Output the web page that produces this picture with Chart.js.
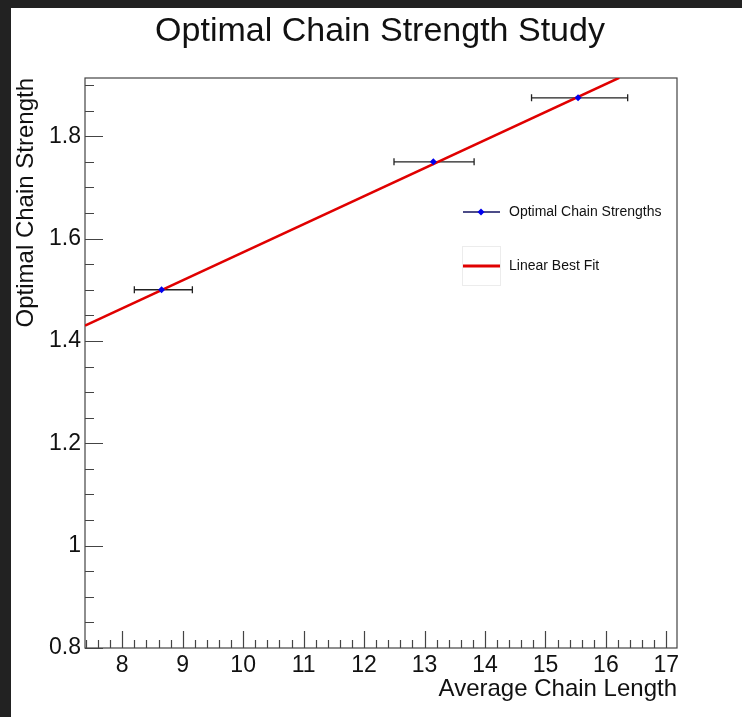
<!DOCTYPE html>
<html><head><meta charset="utf-8">
<script src="https://cdn.jsdelivr.net/npm/chart.js@4.4.1/dist/chart.umd.min.js"></script>
<style>html,body{margin:0;padding:0;background:#fff;} canvas{display:block;}</style>
</head><body>
<canvas id="c" width="742" height="717"></canvas>
<script>
// ---- data ----
const chartTitle = 'Optimal Chain Strength Study';
const xAxisTitle = 'Average Chain Length';
const yAxisTitle = 'Optimal Chain Strength';
const seriesLabels = ['Optimal Chain Strengths', 'Linear Best Fit'];
const chainLength = [8.65, 13.145, 15.54];
const chainLengthLow = [8.20, 12.495, 14.77];
const chainLengthHigh = [9.16, 13.82, 16.36];
const chainStrength = [1.50, 1.75, 1.875];
const fitX = [7.384, 16.22];
const fitY = [1.430, 1.914];
const xTickValues = [8, 9, 10, 11, 12, 13, 14, 15, 16, 17];
const yTickValues = [0.8, 1, 1.2, 1.4, 1.6, 1.8];
const xRange = [7.384, 17.176];
const yRange = [0.8, 1.9137];

const FONT = '"Liberation Sans", Arial, Helvetica, sans-serif';
const TXT = '#111';

const bgPlugin = {
  id: 'bg',
  beforeDraw(chart) {
    const ctx = chart.ctx;
    ctx.save();
    ctx.fillStyle = '#fff';
    ctx.fillRect(0, 0, chart.width, chart.height);
    ctx.fillStyle = '#222';
    ctx.fillRect(0, 0, chart.width, 8);
    ctx.fillRect(0, 0, 11, chart.height);
    ctx.fillStyle = TXT;
    ctx.font = '34px ' + FONT;
    ctx.textAlign = 'center';
    ctx.textBaseline = 'middle';
    ctx.fillText(chartTitle, 380, 32);
    ctx.restore();
  }
};

const framePlugin = {
  id: 'frame',
  beforeDatasetsDraw(chart) {
    const {ctx, chartArea: a, scales: {x, y}} = chart;
    ctx.save();
    ctx.strokeStyle = '#444';
    ctx.lineWidth = 1.2;
    ctx.strokeRect(a.left, a.top, a.right - a.left, a.bottom - a.top);
    ctx.beginPath();
    // x ticks (inside)
    for (let i = Math.ceil(xRange[0] * 5); i <= Math.floor(xRange[1] * 5); i++) {
      const v = i / 5;
      const major = i % 5 === 0;
      const px = Math.round(x.getPixelForValue(v)) + 0.5;
      ctx.moveTo(px, a.bottom);
      ctx.lineTo(px, a.bottom - (major ? 17 : 8));
    }
    // y ticks (inside)
    for (let i = Math.ceil(yRange[0] * 20 - 1e-6); i <= Math.floor(yRange[1] * 20 + 1e-6); i++) {
      const v = i / 20;
      const major = i % 4 === 0;
      const py = Math.round(y.getPixelForValue(v)) + 0.5;
      ctx.moveTo(a.left, py);
      ctx.lineTo(a.left + (major ? 18 : 9), py);
    }
    ctx.stroke();
    // error bars
    ctx.strokeStyle = '#222';
    ctx.lineWidth = 1.3;
    ctx.beginPath();
    for (let i = 0; i < chainLength.length; i++) {
      const py = y.getPixelForValue(chainStrength[i]);
      const x0 = x.getPixelForValue(chainLengthLow[i]);
      const x1 = x.getPixelForValue(chainLengthHigh[i]);
      ctx.moveTo(x0, py); ctx.lineTo(x1, py);
      ctx.moveTo(x0, py - 3.5); ctx.lineTo(x0, py + 3.5);
      ctx.moveTo(x1, py - 3.5); ctx.lineTo(x1, py + 3.5);
    }
    ctx.stroke();
    ctx.restore();
  }
};

const legendPlugin = {
  id: 'customLegend',
  afterDraw(chart) {
    const ctx = chart.ctx;
    ctx.save();
    // faint box around second sample
    ctx.strokeStyle = '#ececec';
    ctx.lineWidth = 1;
    ctx.strokeRect(462.5, 246.5, 38, 39);
    // entry 1
    ctx.strokeStyle = '#101060';
    ctx.lineWidth = 1.3;
    ctx.beginPath(); ctx.moveTo(463, 212); ctx.lineTo(500, 212); ctx.stroke();
    ctx.fillStyle = '#0000ee';
    ctx.beginPath();
    ctx.moveTo(481, 208.5); ctx.lineTo(484.5, 212); ctx.lineTo(481, 215.5); ctx.lineTo(477.5, 212); ctx.closePath();
    ctx.fill();
    // entry 2
    ctx.strokeStyle = '#e00000';
    ctx.lineWidth = 3;
    ctx.beginPath(); ctx.moveTo(463, 266); ctx.lineTo(500, 266); ctx.stroke();
    ctx.fillStyle = TXT;
    ctx.font = '14px ' + FONT;
    ctx.textAlign = 'left';
    ctx.textBaseline = 'middle';
    ctx.fillText(seriesLabels[0], 509, 212);
    ctx.fillText(seriesLabels[1], 509, 266);
    ctx.restore();
  }
};

new Chart(document.getElementById('c'), {
  type: 'scatter',
  data: {
    datasets: [
      {
        label: seriesLabels[0],
        data: chainLength.map((v, i) => ({x: v, y: chainStrength[i]})),
        pointStyle: 'rectRot',
        pointRadius: 3.5,
        backgroundColor: '#0000ee',
        borderColor: '#0000ee',
        borderWidth: 0,
        showLine: false
      },
      {
        label: seriesLabels[1],
        data: fitX.map((v, i) => ({x: v, y: fitY[i]})),
        showLine: true,
        borderColor: '#e00000',
        borderWidth: 2.6,
        pointRadius: 0,
        fill: false
      }
    ]
  },
  options: {
    responsive: false,
    devicePixelRatio: 1,
    animation: false,
    events: [],
    layout: {padding: {top: 78, right: 65, left: 0, bottom: 0}},
    plugins: {legend: {display: false}, title: {display: false}, tooltip: {enabled: false}},
    scales: {
      x: {
        type: 'linear', min: xRange[0], max: xRange[1],
        afterBuildTicks: s => { s.ticks = xTickValues.map(v => ({value: v})); },
        afterFit: s => { s.height = 69; s.paddingLeft = 0; s.paddingRight = 0; },
        grid: {display: false, drawTicks: false},
        border: {display: false},
        ticks: {font: {family: FONT, size: 23}, color: TXT, padding: 4, maxRotation: 0, autoSkip: false},
        title: {display: true, text: xAxisTitle, align: 'end', color: TXT, font: {family: FONT, size: 24}, padding: {top: 0, bottom: 13}}
      },
      y: {
        type: 'linear', min: yRange[0], max: yRange[1],
        afterBuildTicks: s => { s.ticks = yTickValues.map(v => ({value: v})); },
        afterFit: s => { s.width = 85; s.paddingTop = 0; s.paddingBottom = 0; },
        grid: {display: false, drawTicks: false},
        border: {display: false},
        ticks: {font: {family: FONT, size: 23}, color: TXT, padding: 4, autoSkip: false,
                callback: v => String(Math.round(v * 10) / 10)},
        title: {display: true, text: yAxisTitle, align: 'end', color: TXT, font: {family: FONT, size: 24}, padding: {top: 12, bottom: 0}}
      }
    }
  },
  plugins: [bgPlugin, framePlugin, legendPlugin]
});
</script>
</body></html>
